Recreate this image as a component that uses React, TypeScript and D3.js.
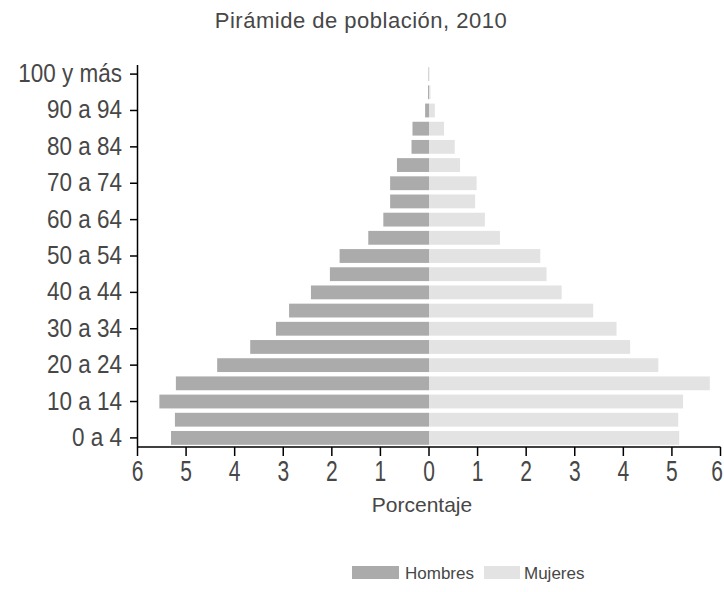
import React from 'react';
import * as d3 from 'd3';

const categories = [
  '0 a 4', '5 a 9', '10 a 14', '15 a 19', '20 a 24', '25 a 29', '30 a 34',
  '35 a 39', '40 a 44', '45 a 49', '50 a 54', '55 a 59', '60 a 64', '65 a 69',
  '70 a 74', '75 a 79', '80 a 84', '85 a 89', '90 a 94', '95 a 99', '100 y más',
];
const hombres = [5.31, 5.23, 5.55, 5.21, 4.36, 3.68, 3.15, 2.88, 2.43, 2.04, 1.84, 1.25, 0.94, 0.8, 0.8, 0.66, 0.36, 0.34, 0.08, 0.02, 0.01];
const mujeres = [5.15, 5.13, 5.23, 5.78, 4.72, 4.14, 3.86, 3.38, 2.73, 2.42, 2.29, 1.46, 1.15, 0.95, 0.98, 0.64, 0.53, 0.31, 0.12, 0.03, 0.01];
const xTicks = [-6, -5, -4, -3, -2, -1, 0, 1, 2, 3, 4, 5, 6];
const title = 'Pirámide de población, 2010';
const xTitle = 'Porcentaje';
const seriesNames = ['Hombres', 'Mujeres'];

const FONT = '"Liberation Sans", Arial, sans-serif';
const TXT = '#474747';
const MALE = '#ababab';
const FEMALE = '#e3e3e3';

export default function App() {
  const W = 724, H = 592;
  const x = d3.scaleLinear().domain([-6, 6]).range([137.5, 720.5]);
  const y = d3.scaleBand<string>().domain(categories).range([447, 65]).paddingInner(0.24).paddingOuter(0.12);
  const bw = y.bandwidth();
  const labeled = categories.filter((_, i) => i % 2 === 0);
  const axisY = 447;

  return (
    <svg width={W} height={H} style={{ position: 'absolute', left: 0, top: 0, background: '#fff' }}>
      <text x={361} y={28} textAnchor="middle" fontFamily={FONT} fontSize={22} fill={TXT} letterSpacing={0.5}>{title}</text>

      {categories.map((c, i) => (
        <rect key={'h' + c} x={x(-hombres[i])} y={y(c)!} width={x(0) - x(-hombres[i])} height={bw} fill={MALE} />
      ))}
      {categories.map((c, i) => (
        <rect key={'m' + c} x={x(0)} y={y(c)!} width={x(mujeres[i]) - x(0)} height={bw} fill={FEMALE} />
      ))}

      {/* y axis */}
      <line x1={137.5} x2={137.5} y1={65} y2={axisY} stroke="#000" strokeWidth={1.5} />
      {labeled.map((c) => {
        const cy = y(c)! + bw / 2;
        return (
          <g key={'yt' + c}>
            <line x1={130} x2={137.5} y1={cy} y2={cy} stroke="#000" strokeWidth={1.5} />
            <text transform={`translate(122,${cy + 8}) scale(1,1.12)`} textAnchor="end" fontFamily={FONT} fontSize={22.5} fill={TXT}>{c}</text>
          </g>
        );
      })}

      {/* x axis */}
      <line x1={137.5} x2={720.5} y1={axisY} y2={axisY} stroke="#000" strokeWidth={1.5} />
      {xTicks.map((t, i) => {
        const last = i === xTicks.length - 1;
        const tx = last ? 723 : x(t);
        return (
          <g key={'xt' + t}>
            <line x1={x(t)} x2={x(t)} y1={axisY} y2={axisY + 9} stroke="#000" strokeWidth={1.5} />
            <text transform={`translate(${tx},481) scale(1,1.4)`} textAnchor={last ? 'end' : 'middle'} fontFamily={FONT} fontSize={21} fill={TXT}>{Math.abs(t)}</text>
          </g>
        );
      })}
      <text x={422} y={512} textAnchor="middle" fontFamily={FONT} fontSize={21} fill={TXT}>{xTitle}</text>

      {/* legend */}
      <rect x={352} y={566} width={47} height={13} fill={MALE} />
      <text x={405} y={579} fontFamily={FONT} fontSize={17} fill={TXT}>{seriesNames[0]}</text>
      <rect x={484} y={566} width={36} height={13} fill={FEMALE} />
      <text x={524} y={579} fontFamily={FONT} fontSize={17} fill={TXT}>{seriesNames[1]}</text>
    </svg>
  );
}
